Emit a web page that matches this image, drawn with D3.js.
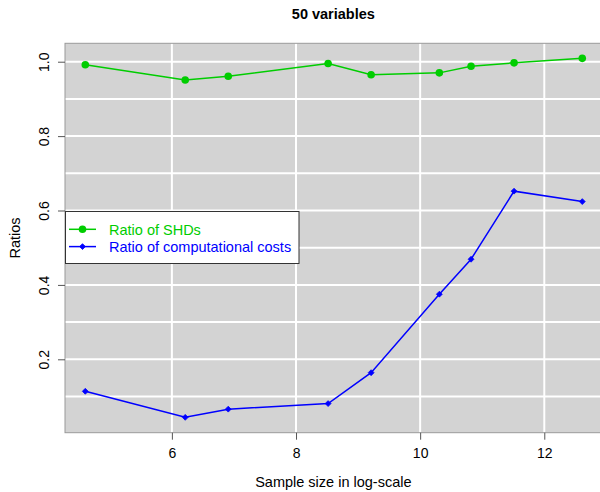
<!DOCTYPE html>
<html><head><meta charset="utf-8">
<script src="https://cdn.jsdelivr.net/npm/d3@7"></script>
<style>body{margin:0;background:#fff;} svg{display:block;font-family:"Liberation Sans",Arial,sans-serif;}</style>
</head><body>
<svg id="c" width="600" height="492"></svg>
<script>
const logSampleSize = [4.605, 6.215, 6.908, 8.517, 9.210, 10.309, 10.820, 11.513, 12.612];
const ratioSHD = [0.992, 0.951, 0.961, 0.995, 0.965, 0.970, 0.988, 0.997, 1.009];
const ratioCost = [0.114, 0.044, 0.066, 0.081, 0.164, 0.375, 0.469, 0.652, 0.624];
const xTicks = [6, 8, 10, 12];
const yTicks = [0.2, 0.4, 0.6, 0.8, 1.0];
const yGrid = [0.1, 0.2, 0.3, 0.4, 0.5, 0.6, 0.7, 0.8, 0.9, 1.0];
const seriesNames = ["Ratio of SHDs", "Ratio of computational costs"];
const title = "50 variables";
const xLabel = "Sample size in log-scale";
const yLabel = "Ratios";

const svg = d3.select("#c");
const L = 65, R = 601.7, T = 43.3, B = 432.7;
const x = d3.scaleLinear().domain([4.278, 12.925]).range([L, R]);
const y = d3.scaleLinear().domain([0.0027, 1.0495]).range([B, T]);

svg.append("rect").attr("x", L).attr("y", T).attr("width", R - L).attr("height", B - T).attr("fill", "#d3d3d3");
// grid
svg.append("g").selectAll("line").data(xTicks).join("line")
  .attr("x1", d => x(d)).attr("x2", d => x(d)).attr("y1", T).attr("y2", B)
  .attr("stroke", "#fff").attr("stroke-width", 2);
svg.append("g").selectAll("line").data(yGrid).join("line")
  .attr("y1", d => y(d)).attr("y2", d => y(d)).attr("x1", L).attr("x2", R)
  .attr("stroke", "#fff").attr("stroke-width", 2);
// box
svg.append("rect").attr("x", L).attr("y", T).attr("width", R - L).attr("height", B - T)
  .attr("fill", "none").attr("stroke", "#9a9a9a").attr("stroke-width", 1);

// axes
const xAxis = d3.axisBottom(x).tickValues(xTicks).tickSize(7).tickPadding(8).tickFormat(d3.format("d"));
const gx = svg.append("g").attr("transform", `translate(0,${B})`).call(xAxis);
gx.select(".domain").remove();
gx.selectAll("line").attr("stroke", "#555");
gx.selectAll("text").attr("font-size", 14).attr("fill", "#000").attr("font-family", "Liberation Sans, Arial, sans-serif");

const yAxis = d3.axisLeft(y).tickValues(yTicks).tickSize(7).tickFormat(d3.format(".1f"));
const gy = svg.append("g").attr("transform", `translate(${L},0)`).call(yAxis);
gy.select(".domain").remove();
gy.selectAll("line").attr("stroke", "#555");
gy.selectAll("text").attr("font-size", 14).attr("fill", "#000").attr("font-family", "Liberation Sans, Arial, sans-serif")
  .attr("text-anchor", "middle").attr("x", null).attr("dy", null)
  .attr("transform", "translate(-16,0) rotate(-90)");

// lines
const line = d3.line().x((d, i) => x(logSampleSize[i])).y(d => y(d));
svg.append("path").datum(ratioSHD).attr("d", line).attr("fill", "none").attr("stroke", "#00cd00").attr("stroke-width", 1.5);
svg.append("path").datum(ratioCost).attr("d", line).attr("fill", "none").attr("stroke", "#0000ff").attr("stroke-width", 1.5);
svg.append("g").selectAll("circle").data(ratioSHD).join("circle")
  .attr("cx", (d, i) => x(logSampleSize[i])).attr("cy", d => y(d)).attr("r", 3.8).attr("fill", "#00cd00");
const diamond = d3.symbol().type(d3.symbolDiamond2).size(22);
svg.append("g").selectAll("path").data(ratioCost).join("path")
  .attr("d", diamond).attr("transform", (d, i) => `translate(${x(logSampleSize[i])},${y(d)})`).attr("fill", "#0000ff")
  .attr("stroke", "#0000ff").attr("stroke-width", 0.8);

// legend
const lg = svg.append("g");
lg.append("rect").attr("x", 65.5).attr("y", 211.5).attr("width", 233.5).attr("height", 52)
  .attr("fill", "#fff").attr("stroke", "#333").attr("stroke-width", 1);
const colors = ["#00cd00", "#0000ff"];
const rows = lg.selectAll("g").data(seriesNames).join("g").attr("transform", (d, i) => `translate(0,${229.3 + i * 17.3})`);
rows.append("line").attr("x1", 69).attr("x2", 96).attr("stroke", (d, i) => colors[i]).attr("stroke-width", 1.5);
rows.filter((d, i) => i === 0).append("circle").attr("cx", 82.5).attr("r", 3.8).attr("fill", colors[0]);
rows.filter((d, i) => i === 1).append("path").attr("d", diamond).attr("transform", "translate(82.5,0)")
  .attr("fill", colors[1]).attr("stroke", colors[1]).attr("stroke-width", 0.8);
rows.append("text").attr("x", 109).attr("dy", "0.36em").attr("font-size", 14.5).attr("fill", (d, i) => colors[i]).text(d => d);

// titles
svg.append("text").attr("x", (L + R) / 2).attr("y", 19).attr("text-anchor", "middle")
  .attr("font-size", 14.5).attr("font-weight", "bold").text(title);
svg.append("text").attr("x", (L + R) / 2).attr("y", 487).attr("text-anchor", "middle")
  .attr("font-size", 14.5).text(xLabel);
svg.append("text").attr("transform", `translate(20,${(T + B) / 2}) rotate(-90)`).attr("text-anchor", "middle")
  .attr("font-size", 14.5).text(yLabel);
</script>
</body></html>
